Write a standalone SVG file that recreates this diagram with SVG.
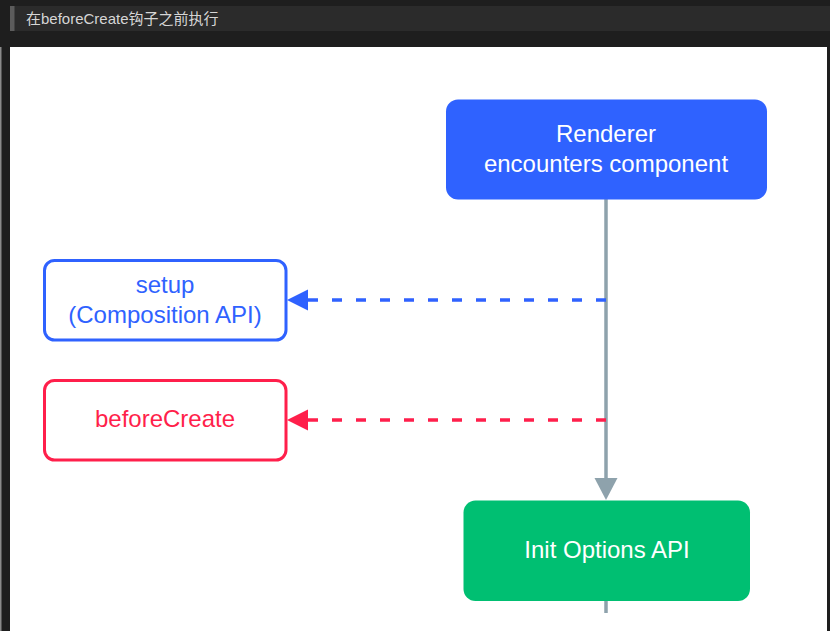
<svg xmlns="http://www.w3.org/2000/svg" width="830" height="631" viewBox="0 0 830 631">
  <style>
    .t { font-family: "Liberation Sans", Arial, sans-serif; font-size: 24px; text-anchor: middle; }
    .w { fill: #ffffff; }
    .title { font-family: "Liberation Sans", "Noto Sans CJK SC", sans-serif; font-size: 15px; fill: #d6d6d6; }
    .flow { stroke: #8ea2ac; stroke-width: 3.5; fill: none; }
    .dash { stroke-width: 3.5; fill: none; stroke-dasharray: 10 14; }
  </style>
  <rect x="0" y="0" width="830" height="631" fill="#1e1e1e"/>
  <g id="titlebar">
    <rect x="10" y="6" width="820" height="25" fill="#2b2b2b"/>
    <rect x="10" y="6" width="4.5" height="25" fill="#5c5c5c"/>
    <text class="title" x="26" y="24">在beforeCreate钩子之前执行</text>
  </g>
  <rect x="0" y="47" width="1.5" height="584" fill="#8a8a8a"/>
  <rect x="10" y="47" width="817" height="584" fill="#ffffff"/>

  <g id="connectors">
    <line class="flow" x1="606" y1="199" x2="606" y2="480"/>
    <polygon points="594.5,478 617.5,478 606,500" fill="#8ea2ac"/>
    <line class="flow" x1="606" y1="601" x2="606" y2="613"/>
    <path class="dash" d="M606 300 H308" stroke="#2f62ff"/>
    <polygon points="308,289.5 308,310.5 287,300" fill="#2f62ff"/>
    <path class="dash" d="M606 420 H308" stroke="#ff1f4b"/>
    <polygon points="308,409.5 308,430.5 287,420" fill="#ff1f4b"/>
  </g>

  <g id="renderer">
    <rect x="446" y="99.5" width="321" height="100" rx="12" fill="#2f62ff"/>
    <text class="t w" x="606" y="142">Renderer</text>
    <text class="t w" x="606" y="172">encounters component</text>
  </g>

  <g id="setup">
    <rect x="44.5" y="260.5" width="241.5" height="79.5" rx="10" fill="#ffffff" stroke="#2f62ff" stroke-width="3"/>
    <text class="t" x="165" y="293" fill="#2f62ff">setup</text>
    <text class="t" x="165" y="323" fill="#2f62ff">(Composition API)</text>
  </g>

  <g id="beforeCreate">
    <rect x="44.5" y="380.5" width="241.5" height="79.5" rx="10" fill="#ffffff" stroke="#ff1f4b" stroke-width="3"/>
    <text class="t" x="165" y="427" fill="#ff1f4b">beforeCreate</text>
  </g>

  <g id="initOptions">
    <rect x="463.5" y="500.5" width="286.5" height="100.5" rx="12" fill="#00bf72"/>
    <text class="t w" x="607" y="558">Init Options API</text>
  </g>
</svg>
